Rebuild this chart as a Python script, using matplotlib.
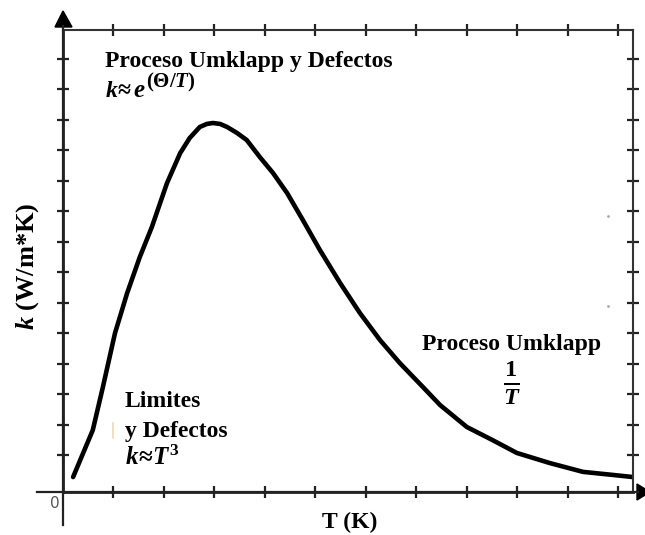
import matplotlib
matplotlib.use('Agg')
import matplotlib.pyplot as plt
import matplotlib.patches as patches
from matplotlib.lines import Line2D
import numpy as np

# thermal conductivity vs temperature (arbitrary units, one unit = one tick)
T = [0.20, 0.59, 0.79, 1.03, 1.27, 1.52, 1.76, 2.06, 2.32, 2.51, 2.71, 2.85,
     2.97, 3.11, 3.25, 3.45, 3.64, 3.90, 4.16, 4.44, 4.75, 5.09, 5.49, 5.88,
     6.28, 6.67, 7.13, 7.47, 8.00, 8.51, 8.99, 9.64, 10.30, 10.89, 11.29]
k = [0.49, 2.03, 3.44, 5.21, 6.52, 7.70, 8.69, 10.13, 11.11, 11.61, 11.97, 12.07,
     12.10, 12.07, 11.97, 11.77, 11.54, 10.98, 10.46, 9.80, 8.92, 7.93, 6.85, 5.87,
     4.98, 4.23, 3.44, 2.85, 2.13, 1.70, 1.28, 0.95, 0.66, 0.56, 0.49]

x_ticks = np.arange(1, 12)
y_ticks = np.arange(14) + 1.21

plt.rcParams['mathtext.fontset'] = 'custom'
plt.rcParams['mathtext.rm'] = 'Liberation Serif:bold'
plt.rcParams['mathtext.bf'] = 'Liberation Serif:bold'
plt.rcParams['mathtext.it'] = 'Liberation Serif:italic:bold'

W, H = 645, 535
fig = plt.figure(figsize=(W / 100, H / 100), dpi=100)
ax = fig.add_axes([63 / W, 1 - 492 / H, 570 / W, 462 / H])

def px(x, y):
    return (x / W, 1 - y / H)

ax.plot(T, k, color='black', lw=3.3, solid_capstyle='round', solid_joinstyle='round')
ax.set_xlim(0, 11.29)
ax.set_ylim(0, 15.15)
ax.set_xticks(x_ticks)
ax.set_yticks(y_ticks)
ax.tick_params(direction='inout', length=8, width=1.6, color='#222222',
               top=True, right=True, labelbottom=False, labelleft=False)
for side in ['top', 'right']:
    ax.spines[side].set_linewidth(1.5)
    ax.spines[side].set_color('#333333')
for side in ['left', 'bottom']:
    ax.spines[side].set_linewidth(2.0)
    ax.spines[side].set_color('#222222')

# axis lines running past the frame, with arrow heads
fig.add_artist(Line2D([63 / W, 63 / W], [1 - 525 / H, 1 - 26 / H], color='#222222', lw=1.6))
fig.add_artist(Line2D([37 / W, 638 / W], [1 - 492 / H, 1 - 492 / H], color='#222222', lw=1.6))
fig.add_artist(patches.Polygon([px(55, 27), px(72, 27), px(63, 11)], closed=True,
                               transform=fig.transFigure, color='black'))
fig.add_artist(patches.Polygon([px(637, 484), px(637, 500), px(650, 492)], closed=True,
                               transform=fig.transFigure, color='black'))

serif = 'Liberation Serif'
fig.text(*px(105, 67), 'Proceso Umklapp y Defectos', family=serif, weight='bold',
         fontsize=17, ha='left', va='baseline')
# k ~ e^(theta/T), exponent set as its own text so it can be larger
fig.text(*px(105, 97), r'$k\!\approx$', fontsize=17, ha='left', va='baseline')
fig.text(*px(133, 97), r'$e$', fontsize=18, ha='left', va='baseline')
fig.text(*px(146, 87), r'$(\Theta/T)$', fontsize=15, ha='left', va='baseline')
fig.text(*px(512, 350), 'Proceso Umklapp', family=serif, weight='bold',
         fontsize=17, ha='center', va='baseline')
fig.text(*px(512, 383), r'$\frac{\mathit{1}}{T}$', fontsize=25,
         ha='center', va='center')
fig.text(*px(125, 407), 'Limites', family=serif, weight='bold',
         fontsize=17, ha='left', va='baseline')
fig.text(*px(125, 437), 'y Defectos', family=serif, weight='bold',
         fontsize=17, ha='left', va='baseline')
fig.text(*px(125, 465), r'$k\!\approx\!T^3$', fontsize=18,
         ha='left', va='baseline')

fig.text(*px(55, 503), '0', family='DejaVu Sans', color='#555555',
         fontsize=11, ha='center', va='center')
fig.text(*px(350, 522), 'T (K)', family=serif, weight='bold',
         fontsize=17, ha='center', va='center')
fig.text(*px(28, 266), r'$k$ (W/m*K)', family=serif, weight='bold',
         fontsize=19, rotation=90, ha='center', va='center')

# faint marks
fig.add_artist(Line2D([113 / W, 113 / W], [1 - 438 / H, 1 - 423 / H], color='#f0d9b0', lw=1.2))
fig.add_artist(Line2D([608 / W], [1 - 216 / H], marker='.', ms=2, color='#aaaaaa', lw=0))
fig.add_artist(Line2D([608 / W], [1 - 306 / H], marker='.', ms=2, color='#aaaaaa', lw=0))

fig.savefig('out.png', dpi=100)
